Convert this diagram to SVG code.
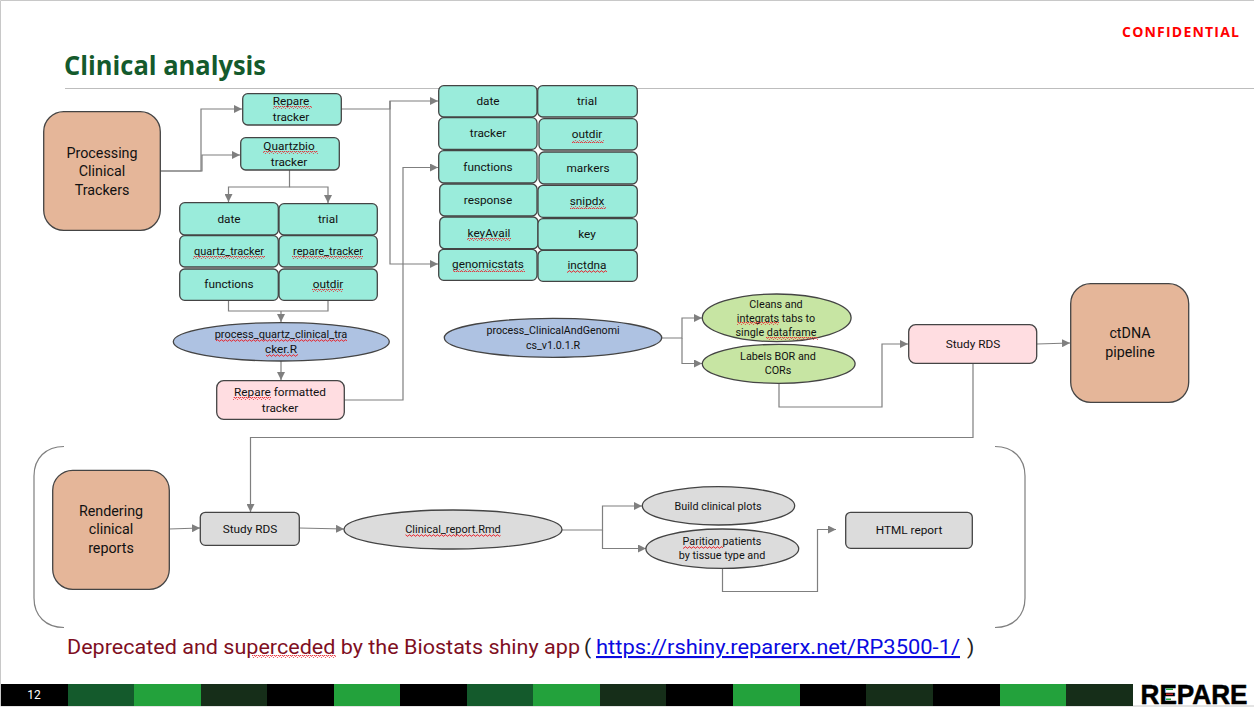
<svg xmlns="http://www.w3.org/2000/svg" width="1254" height="708" viewBox="0 0 1254 708">
<style>
text{font-family:Roboto,"Open Sans","DejaVu Sans",sans-serif;fill:#111;text-anchor:middle}
.s{font-size:11.8px}.u{font-size:11px}.v{font-size:10.700px}.b{font-size:14.300px}.x{font-size:10.800px}
.n{stroke:#444;stroke-width:1.3}
.t{fill:#9aecdb}.o{fill:#e5b699}.p{fill:#ffdde1}.bl{fill:#aec2e2}.g{fill:#c7e5a3}.y{fill:#dcdcdc}
.c{fill:none;stroke:#7f7f7f;stroke-width:1.2}
.a{fill:none;stroke:#7f7f7f;stroke-width:1.2;marker-end:url(#ar)}
.q{fill:url(#sq)}
.f{font-size:21px;fill:#7f0f1f;text-anchor:start}
</style>
<defs>
<marker id="ar" viewBox="0 0 8 8" refX="8" refY="4" markerWidth="8" markerHeight="8" markerUnits="userSpaceOnUse" orient="auto"><path d="M0 0L8 4L0 8Z" fill="#7f7f7f"/></marker>
<pattern id="sq" width="4" height="3" patternUnits="userSpaceOnUse"><path d="M0 2.2L1 .8L2 .8L3 2.2L4 2.2" fill="none" stroke="#e8242c" stroke-width=".9"/></pattern>
</defs>
<rect width="1254" height="708" fill="#fff"/>
<path d="M1254 .5H.5V706H1254" fill="none" stroke="#c8c8c8"/>
<g id="header">
<text x="1122" y="37" textLength="117" style="font-family:'Open Sans',sans-serif;font-size:14px;font-weight:700;fill:#f00;text-anchor:start">CONFIDENTIAL</text>
<text x="64" y="75" textLength="202" lengthAdjust="spacingAndGlyphs" style="font-family:'Open Sans',sans-serif;font-size:27px;font-weight:700;fill:#145a2c;text-anchor:start">Clinical analysis</text>
<path d="M65 88.500H1254" stroke="#bdbdbd" fill="none"/>
</g>
<g id="connectors">
<path class="a" d="M160 171H201V109H242"/>
<path class="a" d="M160 171H202V155H240"/>
<path class="a" d="M289.500 170V187H228.500V202"/>
<path class="a" d="M289.500 187H328V203"/>
<path class="c" d="M228.500 301V311H328V301"/>
<path class="a" d="M281 311V322"/>
<path class="a" d="M281 361V380"/>
<path class="a" d="M341 109H390V101H438"/>
<path class="a" d="M390 101V264H438"/>
<path class="a" d="M344 400H403V167.500H438"/>
<path class="a" d="M662 338H682V318H702"/>
<path class="a" d="M682 338V363.500H702"/>
<path class="a" d="M779 383V407H882V344H908"/>
<path class="a" d="M1037 344L1070 343"/>
<path class="a" d="M973 363V437.500H250.500V512"/>
<path class="a" d="M169 529L200 528"/>
<path class="a" d="M299 528L344 529"/>
<path class="a" d="M562 530H602.500V506H642"/>
<path class="a" d="M602.500 530V548.500H646"/>
<path class="a" d="M722.500 568V591.500H817.500V529.500H836"/>
<path d="M64 446.500C46 446.500 34 458 34 476V598C34 616 46 627.500 64 627.500M995 446.500C1013 446.500 1025 458 1025 476V598C1025 616 1013 627.500 995 627.500" fill="none" stroke="#7f7f7f" stroke-width="1.2"/>
</g>
<g id="processing"><rect class="n o" x="43.700" y="111.700" width="116.600" height="118.600" rx="20"/><text class="b" x="102" y="158">Processing</text><text class="b" x="102" y="176">Clinical</text><text class="b" x="102" y="195">Trackers</text></g>
<g id="repare-tracker"><rect class="n t" x="242.700" y="93.700" width="98.600" height="31.300" rx="5"/><text class="s" x="291" y="105">Repare</text><text class="s" x="291" y="121">tracker</text><rect class="q" x="273" y="106" width="39" height="3"/></g>
<g id="quartzbio-tracker"><rect class="n t" x="240.700" y="137.700" width="98.600" height="32.300" rx="5"/><text class="s" x="289" y="150">Quartzbio</text><text class="s" x="289" y="166">tracker</text><rect class="q" x="263" y="151" width="55" height="3"/></g>
<g id="q-date"><rect class="n t" x="179.700" y="202.700" width="98.600" height="32.300" rx="5"/><text class="s" x="229" y="223">date</text></g>
<g id="q-trial"><rect class="n t" x="279" y="203.700" width="98.300" height="31.300" rx="5"/><text class="s" x="328" y="223">trial</text></g>
<g id="q-quartz"><rect class="n t" x="179.700" y="235.700" width="98.600" height="31.300" rx="5"/><text class="u" x="229" y="255">quartz_tracker</text><rect class="q" x="193" y="256" width="72" height="3"/></g>
<g id="q-repare"><rect class="n t" x="279" y="235.700" width="98.300" height="31.300" rx="5"/><text class="u" x="328" y="255">repare_tracker</text><rect class="q" x="292" y="256" width="71" height="3"/></g>
<g id="q-functions"><rect class="n t" x="179.700" y="269" width="98.600" height="31.300" rx="5"/><text class="s" x="229" y="288">functions</text></g>
<g id="q-outdir"><rect class="n t" x="279" y="269" width="98.300" height="31.300" rx="5"/><text class="s" x="328" y="288">outdir</text><rect class="q" x="312" y="289" width="31" height="3"/></g>
<g id="process-quartz"><ellipse class="n bl" cx="281.300" cy="341.800" rx="108" ry="19.200"/><text class="u" x="281" y="338">process_quartz_clinical_tra</text><text class="s" x="281" y="353">cker.R</text><rect class="q" x="216" y="339" width="131" height="3"/><rect class="q" x="266" y="354" width="32" height="3"/></g>
<g id="repare-formatted"><rect class="n p" x="216.700" y="380.700" width="127.600" height="38.600" rx="7"/><text class="s" x="280" y="396">Repare formatted</text><text class="s" x="280" y="412">tracker</text><rect class="q" x="233" y="397" width="38" height="3"/></g>
<g id="r-date"><rect class="n t" x="438.700" y="85.700" width="98.300" height="31.300" rx="5"/><text class="s" x="488" y="105">date</text></g>
<g id="r-trial"><rect class="n t" x="537.700" y="85.700" width="99.600" height="31.300" rx="5"/><text class="s" x="587" y="105">trial</text></g>
<g id="r-tracker"><rect class="n t" x="438.700" y="117.700" width="98.300" height="31.600" rx="5"/><text class="s" x="488" y="137">tracker</text></g>
<g id="r-outdir"><rect class="n t" x="539" y="118.700" width="98.300" height="31.300" rx="5"/><text class="s" x="587" y="138">outdir</text><rect class="q" x="572" y="140" width="32" height="3"/></g>
<g id="r-functions"><rect class="n t" x="438.700" y="150.700" width="98.300" height="32.300" rx="5"/><text class="s" x="488" y="171">functions</text></g>
<g id="r-markers"><rect class="n t" x="539" y="152" width="98.300" height="32" rx="5"/><text class="s" x="588" y="172">markers</text></g>
<g id="r-response"><rect class="n t" x="439.700" y="184" width="97.300" height="32" rx="5"/><text class="s" x="488" y="204">response</text></g>
<g id="r-snipdx"><rect class="n t" x="538" y="185.300" width="99.300" height="32" rx="5"/><text class="s" x="587" y="205">snipdx</text><rect class="q" x="570" y="206" width="36" height="3"/></g>
<g id="r-keyavail"><rect class="n t" x="439.700" y="217" width="98.300" height="31.700" rx="5"/><text class="s" x="489" y="237">keyAvail</text><rect class="q" x="467" y="238" width="44" height="3"/></g>
<g id="r-key"><rect class="n t" x="538" y="218.700" width="99.300" height="31.300" rx="5"/><text class="s" x="587" y="238">key</text></g>
<g id="r-genomicstats"><rect class="n t" x="438.700" y="249.300" width="98.300" height="31" rx="5"/><text class="s" x="488" y="268">genomicstats</text><rect class="q" x="453" y="269" width="72" height="3"/></g>
<g id="r-inctdna"><rect class="n t" x="538" y="250.300" width="99.300" height="31" rx="5"/><text class="s" x="587" y="269">inctdna</text><rect class="q" x="567" y="270" width="40" height="3"/></g>
<g id="process-clinical"><ellipse class="n bl" cx="553" cy="337.800" rx="108.700" ry="19.500"/><text class="v" x="553" y="334">process_ClinicalAndGenomi</text><text class="v" x="553" y="349">cs_v1.0.1.R</text></g>
<g id="cleans"><ellipse class="n g" cx="776.700" cy="317.800" rx="74.400" ry="23.800"/><text class="x" x="776" y="308">Cleans and</text><text class="x" x="776" y="322">integrats tabs to</text><text class="x" x="776" y="336">single dataframe</text><rect class="q" x="737" y="322" width="42" height="3"/><rect class="q" x="766" y="337" width="52" height="3"/></g>
<g id="labels"><ellipse class="n g" cx="778.700" cy="363.800" rx="76.400" ry="19.500"/><text class="x" x="778" y="360">Labels BOR and</text><text class="x" x="778" y="374">CORs</text></g>
<g id="study-rds-pink"><rect class="n p" x="908.700" y="324.700" width="128" height="38.600" rx="7"/><text class="s" x="973" y="348">Study RDS</text></g>
<g id="ctdna"><rect class="n o" x="1070.700" y="283.700" width="118" height="118.600" rx="20"/><text class="b" x="1130" y="338">ctDNA</text><text class="b" x="1130" y="357">pipeline</text></g>
<g id="rendering"><rect class="n o" x="52.700" y="470.300" width="116.600" height="119" rx="20"/><text class="b" x="111" y="516">Rendering</text><text class="b" x="111" y="534">clinical</text><text class="b" x="111" y="553">reports</text></g>
<g id="study-rds-gray"><rect class="n y" x="200.300" y="512.300" width="99" height="33" rx="5"/><text class="s" x="250" y="533">Study RDS</text></g>
<g id="clinical-report"><ellipse class="n y" cx="453" cy="529.500" rx="109" ry="19.500"/><text class="u" x="453" y="533">Clinical_report.Rmd</text><rect class="q" x="405.500" y="534" width="95" height="3"/></g>
<g id="build"><ellipse class="n y" cx="718.500" cy="505.800" rx="76.200" ry="19.200"/><text class="x" x="718" y="510">Build clinical plots</text></g>
<g id="parition"><ellipse class="n y" cx="722.300" cy="548.700" rx="76.400" ry="19.700"/><text class="x" x="722" y="545">Parition patients</text><text class="x" x="722" y="559">by tissue type and</text><rect class="q" x="683" y="546" width="40" height="3"/></g>
<g id="html-report"><rect class="n y" x="845.700" y="512.300" width="126.600" height="36" rx="5"/><text class="s" x="909" y="534">HTML report</text></g>
<g id="footnote">
<text class="f" x="67" y="654" textLength="513" lengthAdjust="spacingAndGlyphs">Deprecated and superceded by the Biostats shiny app</text>
<text class="f" x="584" y="654" style="fill:#222">(</text>
<text class="f" x="596" y="654" textLength="364" lengthAdjust="spacingAndGlyphs" style="fill:#0a0ae0;text-decoration:underline">https://rshiny.reparerx.net/RP3500-1/</text>
<text class="f" x="967" y="654" style="fill:#222">)</text>
<rect class="q" x="252" y="655" width="84" height="3"/>
</g>
<g id="footer">
<rect x="1" y="684" width="67" height="22" fill="#000"/>
<rect x="68" y="684" width="66" height="22" fill="#145a2c"/>
<rect x="134" y="684" width="67" height="22" fill="#23a23c"/>
<rect x="201" y="684" width="66" height="22" fill="#162e19"/>
<rect x="267" y="684" width="67" height="22" fill="#000"/>
<rect x="334" y="684" width="66" height="22" fill="#23a23c"/>
<rect x="400" y="684" width="67" height="22" fill="#000"/>
<rect x="467" y="684" width="66" height="22" fill="#145a2c"/>
<rect x="533" y="684" width="67" height="22" fill="#23a23c"/>
<rect x="600" y="684" width="66" height="22" fill="#162e19"/>
<rect x="666" y="684" width="67" height="22" fill="#000"/>
<rect x="733" y="684" width="67" height="22" fill="#23a23c"/>
<rect x="800" y="684" width="66" height="22" fill="#000"/>
<rect x="866" y="684" width="67" height="22" fill="#162e19"/>
<rect x="933" y="684" width="67" height="22" fill="#000"/>
<rect x="1000" y="684" width="66" height="22" fill="#23a23c"/>
<rect x="1066" y="684" width="67" height="22" fill="#162e19"/>
<text x="34" y="699" style="font-size:12px;fill:#fff">12</text>
<text x="1194" y="704" textLength="107" lengthAdjust="spacingAndGlyphs" style="font-family:'Liberation Sans',sans-serif;font-size:28px;font-weight:700;fill:#000;stroke:#000;stroke-width:.5">REPARE</text>
<rect x="1166" y="688.500" width="7" height="1.500" fill="#23a23c"/>
<rect x="1166" y="693.500" width="7" height="1.500" fill="#c8242c"/>
<rect x="1166" y="698.500" width="5" height="1.500" fill="#23a23c"/>
</g>
</svg>
